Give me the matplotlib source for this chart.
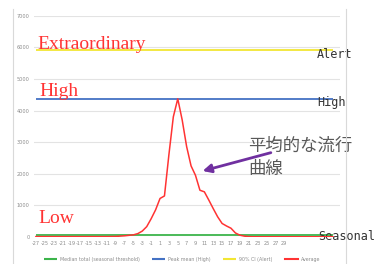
import matplotlib.pyplot as plt
from matplotlib.lines import Line2D

# weekly categories relative to peak week
weeks = list(range(-27, 41))
week_labels = [str(w) for w in range(-27, 30, 2)]

# average epidemic curve
average = [15, 15, 15, 15, 15, 15, 15, 15, 15, 15,
           15, 15, 15, 15, 15, 15, 15, 18, 20, 30,
           40, 55, 70, 110, 190, 330, 580, 860, 1220, 1300,
           2600, 3800, 4370, 3700, 2860, 2250, 1950, 1480, 1430, 1170,
           900, 640, 430, 350, 280, 130, 60, 30, 15, 10,
           10, 10, 10, 10, 10, 10, 10, 10, 10, 10,
           10, 10, 10, 10, 10, 10, 10, 10]

seasonal = 50    # median total (seasonal threshold)
high = 4370      # peak mean
alert = 5900     # 90% CI

series_names = ["Median total (seasonal threshold)", "Peak mean (High)",
                "90% CI (Alert)", "Average"]
colors = ["#3cb44b", "#4472c4", "#f2e633", "#ff3333"]

fig = plt.figure(figsize=(3.74, 2.64), dpi=100)
ax = fig.add_axes([0.090, 0.102, 0.818, 0.839])

ax.hlines(seasonal, weeks[0], weeks[-1], color=colors[0], lw=1.3, label=series_names[0], zorder=3)
ax.hlines(high, weeks[0], weeks[-1], color=colors[1], lw=1.3, label=series_names[1], zorder=3)
ax.hlines(alert, weeks[0], weeks[-1], color=colors[2], lw=1.3, label=series_names[2], zorder=3)
ax.plot(weeks, average, color=colors[3], lw=1.1, label=series_names[3], zorder=4)

ax.set_xlim(-27.5, 41.5)
ax.set_ylim(0, 7000)
ax.set_yticks(range(0, 7001, 1000))
ax.set_xticks(range(-27, 30, 2))
ax.set_xticklabels(week_labels)
ax.tick_params(axis='both', length=0, labelsize=3.6, colors="#8c8c8c", pad=3)
ax.grid(axis='y', color="#e3e3e3", lw=0.8)
ax.set_axisbelow(True)
for s in ax.spines.values():
    s.set_visible(False)

# zone labels
ax.text(-26.6, 5950, "Extraordinary", family="Liberation Serif", fontsize=14, color="#ff3333")
ax.text(-26.1, 4470, "High", family="Liberation Serif", fontsize=14, color="#ff3333")
ax.text(-26.5, 450, "Low", family="Liberation Serif", fontsize=14, color="#ff3333")

# right-hand labels
ax.text(36.4, 5660, "Alert", family="DejaVu Sans Mono", fontsize=8.5, color="#333333", clip_on=False)
ax.text(36.4, 4150, "High", family="DejaVu Sans Mono", fontsize=8.5, color="#333333", clip_on=False)
ax.text(36.6, -95, "Seasonal", family="DejaVu Sans Mono", fontsize=8.5, color="#333333", clip_on=False)

# annotation
ax.text(20.9, 3170, "平均的な流行\n曲線", family=["Noto Sans CJK JP", "DejaVu Sans"],
        fontsize=12.5, color="#595959", va="top", linespacing=1.35)
ax.annotate("", xy=(10.0, 2066), xytext=(26.6, 2690),
            arrowprops=dict(arrowstyle="-|>,head_length=0.5,head_width=0.25",
                            color="#7030a0", lw=2))

leg = ax.legend(loc="upper center", bbox_to_anchor=(0.485, -0.07), ncol=4, frameon=False,
                fontsize=3.4, handlelength=2.8, handletextpad=0.5, columnspacing=2.7,
                labelcolor="#8c8c8c")
for h in leg.legend_handles:
    h.set_linewidth(1.5)

# chart border pieces
fig.add_artist(Line2D([13 / 374, 13 / 374], [0, 1 - 9 / 264], color="#d9d9d9", lw=0.8))
fig.add_artist(Line2D([346 / 374, 346 / 374], [0, 1 - 9 / 264], color="#d9d9d9", lw=0.8))

fig.savefig("out.png", dpi=100, facecolor="white")
